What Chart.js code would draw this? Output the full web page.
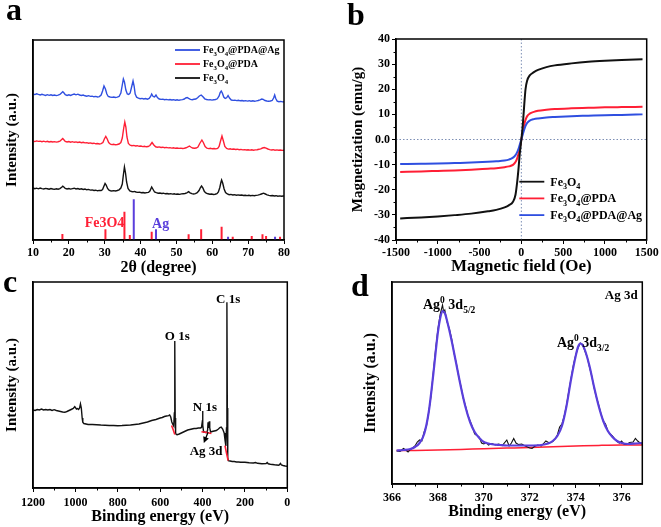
<!DOCTYPE html>
<html><head><meta charset="utf-8">
<script src="https://cdn.jsdelivr.net/npm/chart.js@4.4.1/dist/chart.umd.min.js"></script>
<style>
body{margin:0;background:#fff;width:661px;height:527px;position:relative;overflow:hidden}
canvas{position:absolute}
.lbl{position:absolute;font:bold 32px "Liberation Serif","Times New Roman",serif;line-height:32px;color:#000}
</style></head><body>
<canvas id="ca" width="330" height="278" style="left:0;top:0"></canvas>
<canvas id="cb" width="331" height="278" style="left:330px;top:0"></canvas>
<canvas id="cc" width="330" height="249" style="left:0;top:278px"></canvas>
<canvas id="cd" width="331" height="249" style="left:330px;top:278px"></canvas>
<div class="lbl" style="left:6px;top:-7px">a</div>
<div class="lbl" style="left:347px;top:-2px">b</div>
<div class="lbl" style="left:3px;top:265px">c</div>
<div class="lbl" style="left:351px;top:269px">d</div>
<script>
// ---------- Panel a : XRD ----------
const xrdTicks = [10,20,30,40,50,60,70,80];
const xrdFe3O4 = [[10,52],[10.5,51.3],[11,51.8],[11.5,51.2],[12,51.9],[12.5,51.4],[13,51],[13.5,51.6],[14,51.2],[14.5,50.8],[15,51.5],[15.5,51],[16,50.7],[16.5,51.2],[17,50.8],[17.5,51.4],[18,52.8],[18.3,53.8],[18.6,53],[19,51.6],[19.5,51],[20,51.5],[20.5,50.9],[21,51.4],[21.5,51.8],[22,51.1],[22.5,51.5],[23,50.8],[23.5,51.2],[24,50.5],[24.5,50.9],[25,50.2],[25.5,50.6],[26,49.9],[26.5,50.1],[27,49.5],[27.5,49.8],[28,49.2],[28.5,49.6],[29,49.5],[29.4,50.5],[29.8,54],[30.1,56.5],[30.4,55],[30.8,51.5],[31.2,49.8],[31.6,49.3],[32,49],[32.5,49.4],[33,49],[33.5,49.5],[34,50.2],[34.5,52],[34.9,56],[35.2,65],[35.5,73],[35.8,67],[36.1,58],[36.5,51.5],[37,49],[37.5,48.5],[37.9,48.2],[38.3,48.6],[38.7,48],[39.2,47.6],[39.7,47.9],[40.2,47.3],[40.7,47.5],[41.2,47],[41.7,47.4],[42.2,47.6],[42.6,49],[43.1,53],[43.5,50.5],[43.9,48],[44.4,47.3],[44.9,46.8],[45.4,47],[45.9,46.5],[46.4,46.8],[46.9,46.2],[47.4,46.5],[47.9,46],[48.4,46.4],[48.9,45.9],[49.4,46.2],[49.9,45.7],[50.4,46],[50.9,45.6],[51.4,46.1],[51.9,46.3],[52.4,46.5],[52.9,47.2],[53.4,48.3],[53.8,47.2],[54.3,46.3],[54.8,46],[55.3,46.4],[55.8,47.3],[56.3,49.5],[56.7,52.5],[57,54],[57.4,51.8],[57.8,48.5],[58.3,46.8],[58.8,46.2],[59.3,45.8],[59.8,46],[60.3,45.5],[60.8,45.8],[61.3,46.3],[61.7,48],[62.1,52.5],[62.4,57.5],[62.6,60],[62.9,57],[63.3,51],[63.7,47.5],[64.2,46],[64.7,45.3],[65.2,45.6],[65.7,45],[66.2,45.3],[66.7,44.8],[67.2,45.1],[67.7,44.7],[68.2,45],[68.7,44.5],[69.2,44.8],[69.7,44.4],[70.2,44.7],[70.7,44.3],[71.2,44.6],[71.7,44.2],[72.2,44.6],[72.7,44.9],[73.2,45.3],[73.7,46],[74.3,46.8],[74.8,46],[75.3,45.2],[75.8,44.6],[76.3,44.2],[76.8,44.5],[77.3,44],[77.8,44.3],[78.3,43.8],[78.8,44.1],[79.3,43.7],[79.8,44],[80,43.8]];
const xrdPDA = [[10,99],[10.5,98.4],[11,99.1],[11.5,98.6],[12,98.9],[12.5,98.3],[13,98.8],[13.5,98.2],[14,98.7],[14.5,98.1],[15,98.5],[15.5,98],[16,98.4],[16.5,97.9],[17,98.3],[17.5,98.8],[18,100.5],[18.3,101.5],[18.6,100.3],[19,98.6],[19.5,98],[20,98.5],[20.5,97.8],[21,98.3],[21.5,97.7],[22,98.1],[22.5,97.5],[23,97.9],[23.5,97.3],[24,97.7],[24.5,97.1],[25,97.4],[25.5,96.8],[26,97.1],[26.5,96.5],[27,96.8],[27.5,96.2],[28,96.5],[28.5,96],[29,96.4],[29.5,97.5],[29.9,101],[30.3,103.5],[30.7,101],[31.1,97.5],[31.6,95.8],[32,95.4],[32.5,95.7],[33,95.2],[33.5,95.5],[34,96],[34.5,97.5],[34.9,102],[35.3,112],[35.6,118],[35.9,113],[36.2,103],[36.6,96.5],[37.1,94.8],[37.6,94.3],[38.1,94.6],[38.6,94],[39.1,94.3],[39.6,93.7],[40.1,94],[40.6,93.4],[41.1,93.7],[41.6,93.2],[42.1,93.5],[42.6,94.5],[43.2,97.5],[43.7,95],[44.2,93.2],[44.7,92.8],[45.2,93.1],[45.7,92.5],[46.2,92.8],[46.7,92.3],[47.2,92.6],[47.7,92.1],[48.2,92.4],[48.7,91.9],[49.2,92.2],[49.7,91.7],[50.2,92],[50.7,91.6],[51.2,91.9],[51.7,91.5],[52.2,91.8],[52.7,92.2],[53.2,93],[53.6,94],[54,93],[54.5,92],[55,91.7],[55.5,92],[56,93],[56.5,96.5],[57.1,100],[57.5,97.5],[58,93.5],[58.5,91.8],[59,91.4],[59.5,91.7],[60,91.2],[60.5,91.5],[61,91.1],[61.5,91.6],[61.9,93.5],[62.3,99],[62.7,104],[63.1,99],[63.5,93.5],[64,91.5],[64.5,90.9],[65,91.2],[65.5,90.7],[66,91],[66.5,90.5],[67,90.8],[67.5,90.3],[68,90.6],[68.5,90.1],[69,90.4],[69.5,90],[70,90.3],[70.5,89.9],[71,90.2],[71.5,89.8],[72,90.1],[72.5,90.3],[73,90.7],[73.5,91.2],[74,92],[74.5,92.5],[75,91.8],[75.5,91],[76,90.4],[76.5,90],[77,90.3],[77.5,89.8],[78,90.1],[78.5,89.7],[79,90],[79.5,89.6],[80,89.8]];
const xrdAg = [[10,146],[10.5,145.4],[11,146.2],[11.5,145.6],[12,145.1],[12.5,145.7],[13,145.2],[13.5,144.6],[14,145.3],[14.5,144.7],[15,145.2],[15.5,144.5],[16,145],[16.5,144.4],[17,144.9],[17.5,145.5],[18,147.3],[18.3,148.2],[18.6,147.2],[19,145.3],[19.5,144.6],[20,145.2],[20.5,144.5],[21,145.3],[21.5,146],[22,145.2],[22.5,145.8],[23,145],[23.5,144.5],[24,145],[24.5,144.2],[25,143.8],[25.5,144.3],[26,143.6],[26.5,143.9],[27,143.2],[27.5,143.6],[28,143],[28.5,143.4],[29,145],[29.4,149],[29.8,154],[30.2,151],[30.6,146],[31,143.5],[31.5,143],[32,142.6],[32.5,143],[33,142.5],[33.5,142.9],[34,143.5],[34.5,147],[34.9,155],[35.2,161],[35.5,158],[35.9,150],[36.3,146],[36.7,145.5],[37.1,147],[37.5,153],[37.9,159],[38.2,154],[38.5,146],[38.9,142.8],[39.4,141.8],[39.9,141.3],[40.4,141.6],[40.9,141],[41.4,141.4],[41.9,140.8],[42.4,141.5],[42.8,143.5],[43.1,146],[43.5,143.5],[43.9,143],[44.3,145],[44.7,142.5],[45.2,141],[45.7,140.6],[46.2,140.9],[46.7,140.3],[47.2,140.6],[47.7,140.1],[48.2,140.5],[48.7,140],[49.2,140.3],[49.7,139.8],[50.2,140.2],[50.7,139.7],[51.2,140.1],[51.7,140.4],[52.2,141],[52.6,142],[53,142.5],[53.4,141.6],[53.9,140.6],[54.4,140.3],[54.9,140.7],[55.4,141],[55.9,142.3],[56.4,144],[56.9,145],[57.4,143.2],[57.9,141.2],[58.4,140.5],[58.9,140.1],[59.4,140.4],[59.9,139.9],[60.4,140.2],[60.9,140.5],[61.4,141.2],[61.9,144],[62.2,147.5],[62.5,149],[62.8,147],[63.2,143],[63.6,141.5],[64,142.2],[64.4,144.5],[64.8,142],[65.3,140],[65.8,139.6],[66.3,139.9],[66.8,139.4],[67.3,139.7],[67.8,139.2],[68.3,139.5],[68.8,139],[69.3,139.4],[69.8,138.9],[70.3,139.3],[70.8,138.8],[71.3,139.2],[71.8,138.8],[72.3,139.1],[72.8,139.5],[73.3,140.2],[73.8,141],[74.2,140.6],[74.7,139.5],[75.2,139],[75.7,138.8],[76.2,139],[76.7,139.5],[77.1,142],[77.4,145],[77.7,141.5],[78.1,138.8],[78.6,138.3],[79.1,138.6],[79.6,138.1],[80,138.2]];
const refFe3O4Pos = [18.2,30.2,35.5,37.0,43.1,53.4,56.9,62.6,65.7,71.0,74.0,75.0,78.9];
const refFe3O4H   = [6,10.7,28.3,5,8.3,5.7,10.7,13.3,3.3,4,5.7,4,3.3];
const refAgPos = [38.1,44.3,64.4,77.5];
const refAgH   = [40.7,10.7,3.3,3.3];

// ---------- Panel b : M-H loops ----------
const fieldTicks = [-1500,-1000,-500,0,500,1000,1500];
const magTicks = [-40,-30,-20,-10,0,10,20,30,40];
const field = [-1450,-1200,-1000,-800,-600,-400,-300,-200,-150,-100,-70,-50,-35,-20,-10,0,10,20,35,50,70,100,150,200,300,400,600,800,1000,1200,1450];
const magFe3O4 = [-31.4,-31.0,-30.6,-30.1,-29.5,-28.6,-28.0,-27.0,-26.2,-24.8,-22.0,-17.0,-12.0,-6.0,-3.0,0.0,3.0,7.0,14.0,20.0,23.5,25.5,26.8,27.7,28.8,29.5,30.3,30.9,31.3,31.6,31.9];
const magPDA = [-12.9,-12.7,-12.5,-12.3,-12.0,-11.6,-11.4,-11.0,-10.7,-10.1,-9.0,-7.5,-5.8,-3.5,-1.8,0,1.9,3.8,6.0,7.8,9.3,10.3,11.0,11.4,11.8,12.1,12.4,12.6,12.8,12.9,13.0];
const magAg = [-9.8,-9.7,-9.6,-9.4,-9.2,-8.9,-8.7,-8.4,-8.0,-7.2,-6.2,-5.0,-3.8,-2.2,-1.1,0,1.2,2.4,4.0,5.4,6.6,7.5,8.1,8.4,8.8,9.0,9.3,9.5,9.7,9.8,10.0];

// ---------- Panel c : XPS survey ----------
const surveyTicks = [1200,1000,800,600,400,200,0];
const surveyE = [1200,1190,1180,1170,1160,1150,1140,1130,1120,1110,1100,1090,1080,1070,1060,1050,1040,1030,1020,1010,1003,995,990,985,980,976,972,968,965,960,950,940,920,900,880,860,840,820,800,780,760,740,720,700,680,660,640,620,600,590,580,570,560,555,550,545,540,536,533,531,529,527,524,520,510,500,490,480,470,460,450,440,430,420,410,405,402,400,398,395,390,385,380,376,374,372,370,368,366,362,355,345,335,325,318,312,305,298,294,290,287,285,283,281,278,270,260,250,240,230,220,210,200,180,160,150,140,120,100,95,90,80,70,60,50,40,32,28,20,10,0];
const surveyI = [78,77.5,78.5,78,79,78,78.5,78,78.5,77.5,78.3,77.5,77,76.5,76,75.7,76.5,77.5,78.5,79.5,81.3,79,79.5,78.5,80,84,80,70,65.7,64.5,64,63.5,63.5,63.3,63,62.8,62.5,62.5,62.3,62.5,62.8,63,63.5,64,65,66,67.5,68.5,70,70.5,71.5,72,72.3,73,71,66,63.5,62,75,147,70,55,53.5,53.3,54,55,56,57,58,58.5,59,59.5,59.5,60,60,60.5,65,77,63,56,56,55.5,55.5,58,65.7,60,62,66.7,60,56,56.5,57,57.5,59,60.5,61,59,55,48,42,60,185.7,80,30,27.3,27,26.5,26.5,26,26,25.8,25.7,25.7,25.2,25,25.5,24.7,24.3,24.5,25.5,24.2,23.8,23.5,23.2,23,22.8,24.5,23,22.5,22,21.7];
const surveyRedE = [546,538,531,null,405,380,358,null,294,287,279];
const surveyRedI = [62.5,58,53.5,null,56.3,55.5,54.5,null,42.3,35,27.3];

// ---------- Panel d : Ag 3d ----------
const ag3dTicks = [366,368,370,372,374,376];
const agE = [366.2,366.35,366.5,366.6,366.7,366.8,366.9,367.0,367.1,367.2,367.3,367.4,367.5,367.6,367.7,367.8,367.9,368.0,368.1,368.2,368.25,368.3,368.4,368.5,368.6,368.7,368.8,368.9,369.0,369.1,369.2,369.3,369.4,369.5,369.6,369.7,369.8,369.9,370.0,370.1,370.2,370.35,370.5,370.65,370.8,371.0,371.1,371.2,371.3,371.4,371.5,371.65,371.8,371.9,372.0,372.1,372.2,372.35,372.5,372.6,372.7,372.85,373.0,373.1,373.2,373.3,373.4,373.5,373.6,373.7,373.8,373.9,374.0,374.1,374.2,374.3,374.4,374.5,374.6,374.7,374.8,374.9,375.0,375.1,375.2,375.3,375.4,375.5,375.6,375.7,375.8,375.9,376.0,376.1,376.2,376.35,376.5,376.6,376.7,376.8,376.9];
const agRaw = [33,32.5,35.5,34,32,34.5,36,38,42,44,43,52,58,72,88,112,135,155,170,179,172,174,162,155,145,131,121,108,98,86,78,69,63,57,50,48.5,47,41,40,41.5,39,40.5,39,40,38.5,44,38,41,45.5,41,39.5,40,38,37,36,35.5,37.5,39,38,40.5,43,41,42.5,45,49,57,60,68,79,93,106,119,129,136,141,139.5,133,127,117,108,96,87,79,70,63,60,53,50,48,45,42.5,41,43,40,39.5,41.5,42,45.5,43,41,40];
const agFitE = [366.2,366.5,366.8,367.0,367.2,367.4,367.6,367.8,368.0,368.1,368.2,368.3,368.4,368.6,368.8,369.0,369.2,369.4,369.6,369.8,370.0,370.3,370.7,371.0,371.5,372.0,372.5,372.8,373.0,373.2,373.4,373.6,373.8,374.0,374.1,374.2,374.3,374.4,374.6,374.8,375.0,375.2,375.4,375.6,375.8,376.0,376.3,376.6,376.9];
const agFit = [33.5,34,35,37,41,50,72,110,152,166,173,171,163,143,120,97,77,62,52,46,42,40,39,38.5,38.5,38.5,39,40.5,43,48,58,78,105,128,137,140.5,139,134,118,97,78,63,53,47,43,41,40,40.5,41];
const agBaseE = [366.2,367,368,369,370,371,372,373,374,375,376,376.9];
const agBase = [33.4,33.6,34,34.6,35.3,35.9,36.5,37.2,37.9,38.6,39,39];

// ---------- helpers ----------
const FONT = '"Liberation Serif","Times New Roman",serif';
Chart.defaults.font.family = FONT;
Chart.defaults.font.weight = 'bold';
Chart.defaults.font.size = 12;
Chart.defaults.color = '#000';
Chart.defaults.animation = false;
Chart.defaults.responsive = false;
Chart.defaults.plugins.legend.display = false;
Chart.defaults.plugins.tooltip.enabled = false;
Chart.defaults.elements.point.radius = 0;

const BLACK = '#111111', RED = '#ff1f35', BLUE = '#2f4fe0', PURPLE = '#5a3fdc';

function parseRich(s){
  const out=[]; let i=0, buf='';
  while(i<s.length){
    const c=s[i];
    if(c==='_'||c==='^'){
      if(buf){out.push([buf,0]);buf='';}
      const mode=c==='_'?1:2; i++;
      let t;
      if(s[i]==='{'){const j=s.indexOf('}',i); t=s.slice(i+1,j); i=j+1;} else {t=s[i]; i++;}
      out.push([t,mode]);
    } else {buf+=c;i++;}
  }
  if(buf) out.push([buf,0]);
  return out;
}
function drawRich(ctx,x,y,str,size,color,align){
  const parts=parseRich(str);
  const fonts=parts.map(p=>'bold '+(p[1]?size*0.68:size)+'px '+FONT);
  const ws=parts.map((p,i)=>{ctx.font=fonts[i];return ctx.measureText(p[0]).width;});
  const total=ws.reduce((a,b)=>a+b,0);
  let cx = align==='center'? x-total/2 : align==='right'? x-total : x;
  ctx.fillStyle=color; ctx.textBaseline='alphabetic'; ctx.textAlign='left';
  parts.forEach((p,i)=>{ctx.font=fonts[i]; const dy=p[1]===1?size*0.28:p[1]===2?-size*0.42:0; ctx.fillText(p[0],cx,y+dy); cx+=ws[i];});
}

const deco = {
  id:'deco',
  afterDatasetsDraw(chart,args,o){
    const {ctx, chartArea:a, scales:{x,y}} = chart;
    ctx.save();
    ctx.strokeStyle='#000'; ctx.lineWidth=1;
    if(o.minorX){
      const t=x.ticks.map(t=>t.value);
      for(let i=0;i<t.length-1;i++){const px=Math.round(x.getPixelForValue((t[i]+t[i+1])/2))+0.5;ctx.beginPath();ctx.moveTo(px,a.bottom);ctx.lineTo(px,a.bottom+2.5);ctx.stroke();}
    }
    if(o.minorY){
      const t=y.ticks.map(t=>t.value);
      for(let i=0;i<t.length-1;i++){const py=Math.round(y.getPixelForValue((t[i]+t[i+1])/2))+0.5;ctx.beginPath();ctx.moveTo(a.left,py);ctx.lineTo(a.left-2.5,py);ctx.stroke();}
    }
    ctx.lineWidth=1.5; ctx.strokeStyle='#000';
    ctx.strokeRect(a.left,a.top,a.right-a.left,a.bottom-a.top);
    (o.notes||[]).forEach(n=>drawRich(ctx,x.getPixelForValue(n.x),y.getPixelForValue(n.y),n.text,n.size,n.color||'#000',n.align||'left'));
    (o.arrows||[]).forEach(ar=>{
      const x1=x.getPixelForValue(ar.x1),y1=y.getPixelForValue(ar.y1),x2=x.getPixelForValue(ar.x2),y2=y.getPixelForValue(ar.y2);
      const ang=Math.atan2(y2-y1,x2-x1);
      ctx.strokeStyle='#000';ctx.fillStyle='#000';ctx.lineWidth=1.3;
      ctx.beginPath();ctx.moveTo(x1,y1);ctx.lineTo(x2-4*Math.cos(ang),y2-4*Math.sin(ang));ctx.stroke();
      ctx.beginPath();ctx.moveTo(x2,y2);
      ctx.lineTo(x2-6*Math.cos(ang)+3*Math.sin(ang),y2-6*Math.sin(ang)-3*Math.cos(ang));
      ctx.lineTo(x2-6*Math.cos(ang)-3*Math.sin(ang),y2-6*Math.sin(ang)+3*Math.cos(ang));
      ctx.closePath();ctx.fill();
    });
    if(o.legend){
      const L=o.legend;
      L.items.forEach((it,i)=>{
        const yy=a.top+L.y+i*L.dy;
        ctx.strokeStyle=it.color;ctx.lineWidth=1.8;
        ctx.beginPath();ctx.moveTo(a.left+L.x,yy);ctx.lineTo(a.left+L.x+L.len,yy);ctx.stroke();
        drawRich(ctx,a.left+L.x+L.len+L.gap,yy+L.size*0.33,it.text,L.size,'#000','left');
      });
    }
    ctx.restore();
  }
};
Chart.register(deco);

const pairs = arr => arr.map(p=>({x:p[0],y:p[1]}));
const zip = (xs,ys) => xs.map((v,i)=>({x:v,y:ys[i]}));
function sticks(pos,h){const d=[];pos.forEach((p,i)=>{d.push({x:p,y:0},{x:p,y:h[i]},{x:p,y:null});});return d;}
const setTicks = arr => s => { s.ticks = arr.map(v=>({value:v})); };
const plain = v => String(v);

function xAxis(min,max,ticks,title,fontSize,titlePad,height,tickPad,extra){
  return Object.assign({
    type:'linear',min,max,
    afterBuildTicks:setTicks(ticks),
    afterFit:s=>{s.height=height;},
    ticks:{font:{size:12,weight:'bold'},padding:tickPad,maxRotation:0,autoSkip:false,color:'#000',callback:plain},
    grid:{display:true,drawOnChartArea:false,drawTicks:true,tickLength:4,color:'#000',lineWidth:1},
    border:{display:true,color:'#000',width:1.5},
    title:{display:true,text:title,font:{size:fontSize,weight:'bold',lineHeight:1},padding:{top:0,bottom:titlePad},color:'#000'}
  },extra||{});
}
function yAxisPlain(min,max,title,fontSize,titlePad,width){
  return {
    type:'linear',min,max,
    afterFit:s=>{s.width=width;},
    ticks:{display:false},
    grid:{display:false},
    border:{display:true,color:'#000',width:1.5},
    title:{display:true,text:title,font:{size:fontSize,weight:'bold',lineHeight:1},padding:{top:titlePad,bottom:0},color:'#000'}
  };
}

// ---------- Chart a ----------
new Chart(document.getElementById('ca'),{
  type:'line',
  data:{datasets:[
    {data:pairs(xrdAg),borderColor:BLUE,borderWidth:1.4,order:1},
    {data:pairs(xrdPDA),borderColor:RED,borderWidth:1.4,order:2},
    {data:pairs(xrdFe3O4),borderColor:BLACK,borderWidth:1.4,order:3},
    {data:sticks(refFe3O4Pos,refFe3O4H),borderColor:RED,borderWidth:2,spanGaps:false,order:4},
    {data:sticks(refAgPos,refAgH),borderColor:PURPLE,borderWidth:2,spanGaps:false,order:4}
  ]},
  options:{
    layout:{padding:{left:0,top:40,right:46,bottom:0}},
    scales:{
      x:xAxis(10,80,xrdTicks,'2θ (degree)',16,2,38,2),
      y:yAxisPlain(0,200,'Intensity (a.u.)',15,4.5,33)
    },
    plugins:{deco:{minorX:true,
      notes:[{x:24.4,y:13,text:'Fe3O4',size:14,color:RED},{x:43.2,y:12,text:'Ag',size:14,color:PURPLE}],
      legend:{x:142,y:10,dy:14,len:25,gap:3,size:10,items:[
        {color:BLUE,text:'Fe_3O_4@PDA@Ag'},{color:RED,text:'Fe_3O_4@PDA'},{color:BLACK,text:'Fe_3O_4'}]}
    }}
  }
});

// ---------- Chart b ----------
new Chart(document.getElementById('cb'),{
  type:'line',
  data:{datasets:[
    {data:zip(field,magFe3O4),borderColor:BLACK,borderWidth:2,cubicInterpolationMode:'monotone',order:1},
    {data:zip(field,magPDA),borderColor:RED,borderWidth:2,cubicInterpolationMode:'monotone',order:3},
    {data:zip(field,magAg),borderColor:BLUE,borderWidth:2,cubicInterpolationMode:'monotone',order:2},
    {data:[{x:0,y:-40},{x:0,y:40}],borderColor:'#7d8fb5',borderWidth:1,borderDash:[1.5,2],order:10},
    {data:[{x:-1500,y:0},{x:1500,y:0}],borderColor:'#7d8fb5',borderWidth:1,borderDash:[1.5,2],order:10}
  ]},
  options:{
    layout:{padding:{left:0,top:39,right:14.3,bottom:0}},
    scales:{
      x:xAxis(-1500,1500,fieldTicks,'Magnetic field (Oe)',17,2.5,38,2),
      y:{type:'linear',min:-40,max:40,
        afterBuildTicks:setTicks(magTicks),
        afterFit:s=>{s.width=66;},
        ticks:{font:{size:12,weight:'bold'},padding:2,color:'#000',callback:v=>v===0?'0.0':String(v)},
        grid:{display:true,drawOnChartArea:false,drawTicks:true,tickLength:4,color:'#000',lineWidth:1},
        border:{display:true,color:'#000',width:1.5},
        title:{display:true,text:'Magnetization (emu/g)',font:{size:15,weight:'bold',lineHeight:1},padding:{top:20.5,bottom:0},color:'#000'}
      }
    },
    plugins:{deco:{minorX:true,minorY:true,
      legend:{x:123.3,y:142.7,dy:16.7,len:25,gap:6,size:12,items:[
        {color:BLACK,text:'Fe_3O_4'},{color:RED,text:'Fe_3O_4@PDA'},{color:BLUE,text:'Fe_3O_4@PDA@Ag'}]}
    }}
  }
});

// ---------- Chart c ----------
new Chart(document.getElementById('cc'),{
  type:'line',
  data:{datasets:[
    {data:zip(surveyRedE,surveyRedI),borderColor:RED,borderWidth:1.6,spanGaps:false,order:1},
    {data:zip(surveyE,surveyI),borderColor:BLACK,borderWidth:1.4,order:2}
  ]},
  options:{
    layout:{padding:{left:0,top:4,right:42.7,bottom:0}},
    scales:{
      x:xAxis(0,1200,surveyTicks,'Binding energy (eV)',16,1.7,39,4,{reverse:true}),
      y:yAxisPlain(0,206,'Intensity (a.u.)',15,4.2,33)
    },
    plugins:{deco:{minorX:true,
      notes:[
        {x:279,y:185,text:'C 1s',size:13,align:'center'},
        {x:519,y:147.7,text:'O 1s',size:13,align:'center'},
        {x:389,y:76.7,text:'N 1s',size:13,align:'center'},
        {x:383,y:33.5,text:'Ag 3d',size:13,align:'center'}
      ],
      arrows:[{x1:374,y1:55.7,x2:394,y2:45}]
    }}
  }
});

// ---------- Chart d ----------
new Chart(document.getElementById('cd'),{
  type:'line',
  data:{datasets:[
    {data:zip(agFitE,agFit),borderColor:PURPLE,borderWidth:2.2,cubicInterpolationMode:'monotone',order:1},
    {data:zip(agE,agRaw),borderColor:BLACK,borderWidth:1.1,order:2},
    {data:zip(agBaseE,agBase),borderColor:RED,borderWidth:1.5,cubicInterpolationMode:'monotone',order:3}
  ]},
  options:{
    layout:{padding:{left:0,top:4,right:18.7,bottom:0}},
    scales:{
      x:xAxis(366,376.9,ag3dTicks,'Binding energy (eV)',16,7,43,3),
      y:yAxisPlain(0,202,'Intensity (a.u.)',16,32.5,62)
    },
    plugins:{deco:{minorX:true,
      notes:[
        {x:376.7,y:185,text:'Ag 3d',size:13,align:'right'},
        {x:367.35,y:175,text:'Ag^0 3d_{5/2}',size:14},
        {x:373.18,y:137,text:'Ag^0 3d_{3/2}',size:14}
      ]
    }}
  }
});
</script>
</body></html>
